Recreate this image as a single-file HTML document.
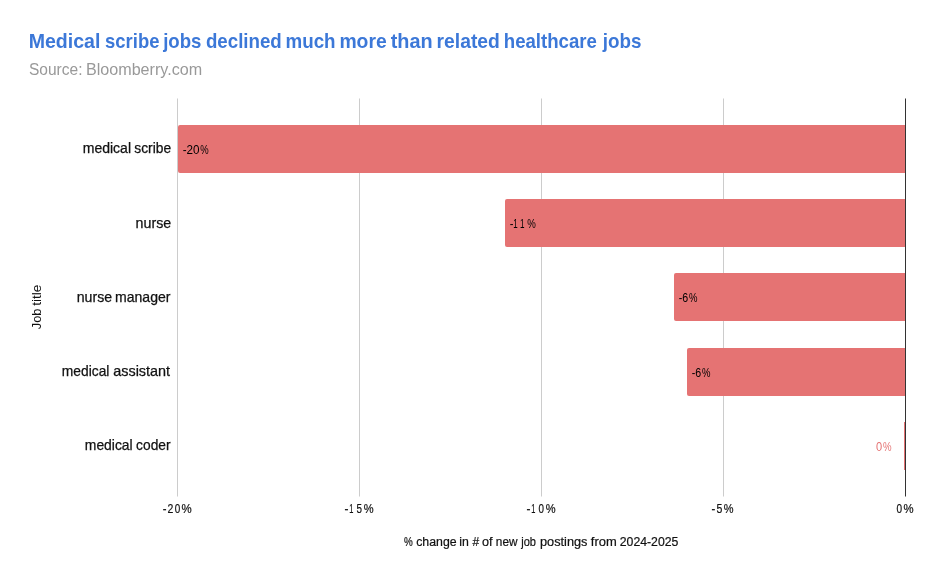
<!DOCTYPE html>
<html lang="en">
<head>
<meta charset="utf-8">
<title>Medical scribe jobs declined much more than related healthcare jobs</title>
<style>
  html, body { margin: 0; padding: 0; background: #ffffff; }
  body { width: 934px; height: 578px; overflow: hidden; }
  svg { display: block; font-family: "Liberation Sans", sans-serif; }
  text { white-space: pre; }
  .title { font-size: 20.1px; font-weight: bold; fill: #3c78d8; }
  .sub { font-size: 15.6px; font-weight: normal; fill: #999999; }
  .cat { font-size: 14.1px; font-weight: normal; fill: #111111; stroke: #111111; stroke-width: 0.25px; }
  .val { font-size: 11.9px; font-weight: normal; fill: #000000; }
  .valr { font-size: 11.9px; font-weight: normal; fill: #e57373; }
  .tick { font-size: 12.0px; font-weight: normal; fill: #111111; stroke: #111111; stroke-width: 0.2px; }
  .ax { font-size: 12.0px; font-weight: normal; fill: #111111; stroke: #111111; stroke-width: 0.2px; }
</style>
</head>
<body>
<svg width="934" height="578" viewBox="0 0 934 578">
  <rect x="0" y="0" width="934" height="578" fill="#ffffff"/>

  <!-- gridlines -->
  <g fill="#cccccc">
    <rect x="177" y="98.5" width="1" height="398"/>
    <rect x="359" y="98.5" width="1" height="398"/>
    <rect x="541" y="98.5" width="1" height="398"/>
    <rect x="723" y="98.5" width="1" height="398"/>
  </g>

  <!-- bars -->
  <g fill="#e57373">
    <path d="M905 125 H180 a2 2 0 0 0 -2 2 V171 a2 2 0 0 0 2 2 H905 Z"/>
    <path d="M905 199 H507 a2 2 0 0 0 -2 2 V245 a2 2 0 0 0 2 2 H905 Z"/>
    <path d="M905 273 H676 a2 2 0 0 0 -2 2 V319 a2 2 0 0 0 2 2 H905 Z"/>
    <path d="M905 348 H689 a2 2 0 0 0 -2 2 V394 a2 2 0 0 0 2 2 H905 Z"/>
    <rect x="904" y="422" width="1" height="48"/>
  </g>

  <!-- zero axis -->
  <rect x="905" y="98.5" width="1" height="398" fill="#333333"/>

  <!-- text -->
  <text id="t-title" class="title" y="48"><tspan x="28.68" textLength="71.75" lengthAdjust="spacingAndGlyphs">Medical</tspan> <tspan x="105.11" textLength="54.34" lengthAdjust="spacingAndGlyphs">scribe</tspan> <tspan x="163.13" textLength="38.33" lengthAdjust="spacingAndGlyphs">jobs</tspan> <tspan x="205.90" textLength="75.89" lengthAdjust="spacingAndGlyphs">declined</tspan> <tspan x="285.53" textLength="50.03" lengthAdjust="spacingAndGlyphs">much</tspan> <tspan x="339.40" textLength="47.33" lengthAdjust="spacingAndGlyphs">more</tspan> <tspan x="390.75" textLength="41.91" lengthAdjust="spacingAndGlyphs">than</tspan> <tspan x="436.60" textLength="63.25" lengthAdjust="spacingAndGlyphs">related</tspan> <tspan x="503.81" textLength="93.12" lengthAdjust="spacingAndGlyphs">healthcare</tspan> <tspan x="602.83" textLength="38.73" lengthAdjust="spacingAndGlyphs">jobs</tspan></text>
  <text id="t-sub" class="sub" y="75"><tspan x="28.95" textLength="53.55" lengthAdjust="spacingAndGlyphs">Source:</tspan> <tspan x="85.91" textLength="116.27" lengthAdjust="spacingAndGlyphs">Bloomberry.com</tspan></text>
  <text id="c1" class="cat" y="153"><tspan x="82.70" textLength="48.37" lengthAdjust="spacingAndGlyphs">medical</tspan> <tspan x="134.31" textLength="36.88" lengthAdjust="spacingAndGlyphs">scribe</tspan></text>
  <text id="c2" class="cat" y="228"><tspan x="135.59" textLength="35.63" lengthAdjust="spacingAndGlyphs">nurse</tspan></text>
  <text id="c3" class="cat" y="302"><tspan x="76.70" textLength="35.42" lengthAdjust="spacingAndGlyphs">nurse</tspan> <tspan x="115.00" textLength="55.44" lengthAdjust="spacingAndGlyphs">manager</tspan></text>
  <text id="c4" class="cat" y="376"><tspan x="61.87" textLength="47.59" lengthAdjust="spacingAndGlyphs">medical</tspan> <tspan x="113.19" textLength="56.95" lengthAdjust="spacingAndGlyphs">assistant</tspan></text>
  <text id="c5" class="cat" y="450"><tspan x="84.82" textLength="47.85" lengthAdjust="spacingAndGlyphs">medical</tspan> <tspan x="136.11" textLength="34.45" lengthAdjust="spacingAndGlyphs">coder</tspan></text>
  <text id="v1" class="val" y="154"><tspan x="182.74" textLength="16.86" lengthAdjust="spacingAndGlyphs">-20</tspan><tspan x="200.30" textLength="8.42" lengthAdjust="spacingAndGlyphs">%</tspan></text>
  <text id="v2" class="val" y="228"><tspan x="509.63" textLength="3.70" lengthAdjust="spacingAndGlyphs">-</tspan><tspan x="513.18" textLength="4.44" lengthAdjust="spacingAndGlyphs">1</tspan><tspan x="520.12" textLength="4.50" lengthAdjust="spacingAndGlyphs">1</tspan><tspan x="527.19" textLength="8.57" lengthAdjust="spacingAndGlyphs">%</tspan></text>
  <text id="v3" class="val" y="302"><tspan x="678.75" textLength="9.47" lengthAdjust="spacingAndGlyphs">-6</tspan><tspan x="689.10" textLength="8.47" lengthAdjust="spacingAndGlyphs">%</tspan></text>
  <text id="v4" class="val" y="377"><tspan x="691.75" textLength="9.47" lengthAdjust="spacingAndGlyphs">-6</tspan><tspan x="702.10" textLength="8.47" lengthAdjust="spacingAndGlyphs">%</tspan></text>
  <text id="v5" class="valr" y="451"><tspan x="876.08" textLength="6.16" lengthAdjust="spacingAndGlyphs">0</tspan><tspan x="883.09" textLength="8.57" lengthAdjust="spacingAndGlyphs">%</tspan></text>
  <text id="k1" class="tick" y="513"><tspan x="162.63" textLength="3.73" lengthAdjust="spacingAndGlyphs">-</tspan><tspan x="167.46" textLength="5.83" lengthAdjust="spacingAndGlyphs">2</tspan><tspan x="174.69" textLength="5.51" lengthAdjust="spacingAndGlyphs">0</tspan><tspan x="181.52" textLength="10.18" lengthAdjust="spacingAndGlyphs">%</tspan></text>
  <text id="k2" class="tick" y="513"><tspan x="344.45" textLength="3.94" lengthAdjust="spacingAndGlyphs">-</tspan><tspan x="349.28" textLength="4.14" lengthAdjust="spacingAndGlyphs">1</tspan><tspan x="356.49" textLength="5.46" lengthAdjust="spacingAndGlyphs">5</tspan><tspan x="363.74" textLength="9.85" lengthAdjust="spacingAndGlyphs">%</tspan></text>
  <text id="k3" class="tick" y="513"><tspan x="526.45" textLength="3.94" lengthAdjust="spacingAndGlyphs">-</tspan><tspan x="531.28" textLength="4.14" lengthAdjust="spacingAndGlyphs">1</tspan><tspan x="538.49" textLength="5.46" lengthAdjust="spacingAndGlyphs">0</tspan><tspan x="545.74" textLength="9.85" lengthAdjust="spacingAndGlyphs">%</tspan></text>
  <text id="k4" class="tick" y="513"><tspan x="711.58" textLength="3.74" lengthAdjust="spacingAndGlyphs">-</tspan><tspan x="716.43" textLength="5.84" lengthAdjust="spacingAndGlyphs">5</tspan><tspan x="723.74" textLength="9.74" lengthAdjust="spacingAndGlyphs">%</tspan></text>
  <text id="k5" class="tick" y="513"><tspan x="896.58" textLength="5.57" lengthAdjust="spacingAndGlyphs">0</tspan><tspan x="903.43" textLength="10.07" lengthAdjust="spacingAndGlyphs">%</tspan></text>
  <text id="xt" class="ax" y="546"><tspan x="404.09" textLength="8.76" lengthAdjust="spacingAndGlyphs">%</tspan> <tspan x="416.19" textLength="40.45" lengthAdjust="spacingAndGlyphs">change</tspan> <tspan x="459.33" textLength="9.58" lengthAdjust="spacingAndGlyphs">in</tspan> <tspan x="472.50" textLength="6.68" lengthAdjust="spacingAndGlyphs">#</tspan> <tspan x="482.07" textLength="10.53" lengthAdjust="spacingAndGlyphs">of</tspan> <tspan x="495.86" textLength="21.65" lengthAdjust="spacingAndGlyphs">new</tspan> <tspan x="521.23" textLength="14.74" lengthAdjust="spacingAndGlyphs">job</tspan> <tspan x="540.00" textLength="47.47" lengthAdjust="spacingAndGlyphs">postings</tspan> <tspan x="590.83" textLength="25.88" lengthAdjust="spacingAndGlyphs">from</tspan> <tspan x="619.79" textLength="58.56" lengthAdjust="spacingAndGlyphs">2024-2025</tspan></text>
  <text id="yt" class="ax" y="0" transform="translate(41.2 329.2) rotate(-90)" style="stroke:none"><tspan x="-0.02" textLength="20.65" lengthAdjust="spacingAndGlyphs">Job</tspan> <tspan x="23.36" textLength="21.32" lengthAdjust="spacingAndGlyphs">title</tspan></text>
</svg>
</body>
</html>
